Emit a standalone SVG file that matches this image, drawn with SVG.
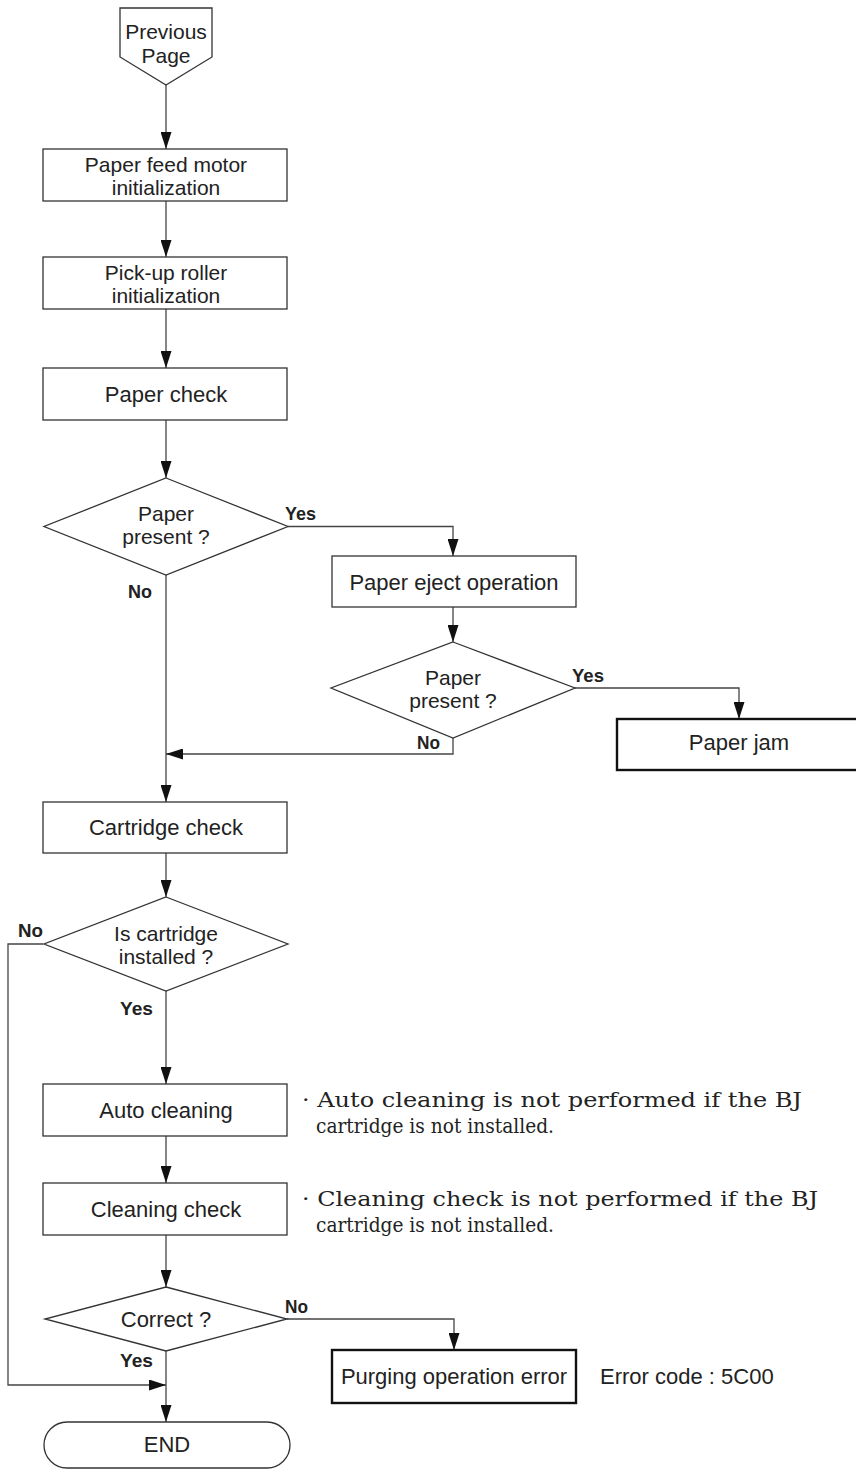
<svg xmlns="http://www.w3.org/2000/svg" width="856" height="1472" viewBox="0 0 856 1472">
<style>
.bg{fill:#fff}
.box{fill:#fff;stroke:#333;stroke-width:1.3}
.bold{fill:#fff;stroke:#111;stroke-width:2.4}
.t{font-family:"Liberation Sans",Arial,sans-serif;font-size:22px;fill:#222;text-anchor:middle}
.t2{font-family:"Liberation Sans",Arial,sans-serif;font-size:21px;fill:#222;text-anchor:middle}
.tl{font-family:"Liberation Sans",Arial,sans-serif;font-size:22px;fill:#222}
.lab{font-family:"Liberation Sans Narrow","Liberation Sans",Arial,sans-serif;font-size:19px;font-weight:bold;fill:#222}
.note{font-family:"DejaVu Serif","Liberation Serif",serif;font-size:20px;fill:#222}
.ln{fill:none;stroke:#444;stroke-width:1.3}
</style>
<defs>
<marker id="ah" markerUnits="userSpaceOnUse" markerWidth="17" markerHeight="11" refX="17" refY="5.5" orient="auto">
<path d="M0,0 L17,5.5 L0,11 Z" fill="#111"/>
</marker>
</defs>
<rect class="bg" x="0" y="0" width="856" height="1472"/>

<g id="connectors">
<path class="ln" d="M166,85 V149" marker-end="url(#ah)"/>
<path class="ln" d="M166,201 V257" marker-end="url(#ah)"/>
<path class="ln" d="M166,309 V368" marker-end="url(#ah)"/>
<path class="ln" d="M166,420 V478" marker-end="url(#ah)"/>
<path class="ln" d="M288,526.5 H453 V556" marker-end="url(#ah)"/>
<path class="ln" d="M166,575 V802" marker-end="url(#ah)"/>
<path class="ln" d="M453,607 V642" marker-end="url(#ah)"/>
<path class="ln" d="M575,688 H739 V719" marker-end="url(#ah)"/>
<path class="ln" d="M453,738 V754 H166" marker-end="url(#ah)"/>
<path class="ln" d="M166,853 V897" marker-end="url(#ah)"/>
<path class="ln" d="M43,944 H8 V1385 H166" marker-end="url(#ah)"/>
<path class="ln" d="M166,991 V1084" marker-end="url(#ah)"/>
<path class="ln" d="M166,1136 V1183" marker-end="url(#ah)"/>
<path class="ln" d="M166,1235 V1287" marker-end="url(#ah)"/>
<path class="ln" d="M287,1319 H454 V1350" marker-end="url(#ah)"/>
<path class="ln" d="M166,1351 V1422" marker-end="url(#ah)"/>
<text class="lab" x="285" y="520" textLength="31" lengthAdjust="spacingAndGlyphs">Yes</text>
<text class="lab" x="128" y="598" textLength="24" lengthAdjust="spacingAndGlyphs">No</text>
<text class="lab" x="572" y="682" textLength="32" lengthAdjust="spacingAndGlyphs">Yes</text>
<text class="lab" x="417" y="749" textLength="23" lengthAdjust="spacingAndGlyphs">No</text>
<text class="lab" x="18" y="937" textLength="25" lengthAdjust="spacingAndGlyphs">No</text>
<text class="lab" x="120" y="1015" textLength="33" lengthAdjust="spacingAndGlyphs">Yes</text>
<text class="lab" x="285" y="1313" textLength="23" lengthAdjust="spacingAndGlyphs">No</text>
<text class="lab" x="120" y="1367" textLength="33" lengthAdjust="spacingAndGlyphs">Yes</text>
</g>

<g id="prev-page">
<polygon class="box" points="120,8 212,8 212,57 166,85 120,57"/>
<text class="t2" x="166" y="39">Previous</text>
<text class="t2" x="166" y="63">Page</text>
</g>
<g id="feed-motor-init">
<rect class="box" x="43" y="149" width="244" height="52"/>
<text class="t2" x="166" y="172">Paper feed motor</text>
<text class="t2" x="166" y="195">initialization</text>
</g>
<g id="pickup-init">
<rect class="box" x="43" y="257" width="244" height="52"/>
<text class="t2" x="166" y="280">Pick-up roller</text>
<text class="t2" x="166" y="303">initialization</text>
</g>
<g id="paper-check">
<rect class="box" x="43" y="368" width="244" height="52"/>
<text class="t" x="166" y="402">Paper check</text>
</g>
<g id="paper-present-1">
<polygon class="box" points="166,478 288,526.5 166,575 44,526.5"/>
<text class="t2" x="166" y="521">Paper</text>
<text class="t2" x="166" y="544">present ?</text>
</g>
<g id="paper-eject">
<rect class="box" x="332" y="556" width="244" height="51"/>
<text class="t" x="454" y="590">Paper eject operation</text>
</g>
<g id="paper-present-2">
<polygon class="box" points="453,642 575,688 453,738 331,688"/>
<text class="t2" x="453" y="685">Paper</text>
<text class="t2" x="453" y="708">present ?</text>
</g>
<g id="paper-jam">
<rect class="bold" x="617" y="719" width="250" height="51"/>
<text class="t" x="739" y="750">Paper jam</text>
</g>
<g id="cartridge-check">
<rect class="box" x="43" y="802" width="244" height="51"/>
<text class="t" x="166" y="835">Cartridge check</text>
</g>
<g id="cartridge-installed">
<polygon class="box" points="166,897 288,944 166,991 44,944"/>
<text class="t2" x="166" y="941">Is cartridge</text>
<text class="t2" x="166" y="964">installed ?</text>
</g>
<g id="auto-cleaning">
<rect class="box" x="43" y="1084" width="244" height="52"/>
<text class="t" x="166" y="1118">Auto cleaning</text>
</g>
<g id="cleaning-check">
<rect class="box" x="43" y="1183" width="244" height="52"/>
<text class="t" x="166" y="1217">Cleaning check</text>
</g>
<g id="correct">
<polygon class="box" points="166,1287 287,1319 166,1351 45,1319"/>
<text class="t" x="166" y="1327">Correct ?</text>
</g>
<g id="purging-error">
<rect class="bold" x="332" y="1350" width="244" height="53"/>
<text class="t" x="454" y="1384">Purging operation error</text>
<text class="tl" x="600" y="1384">Error code : 5C00</text>
</g>
<g id="end">
<rect class="box" x="44" y="1422" width="246" height="46" rx="23" ry="23"/>
<text class="t" x="167" y="1452">END</text>
</g>
<g id="notes">
<text class="note" x="302" y="1107" textLength="500" lengthAdjust="spacingAndGlyphs">· Auto cleaning is not performed if the BJ</text>
<text class="note" x="316" y="1133" textLength="238" lengthAdjust="spacingAndGlyphs">cartridge is not installed.</text>
<text class="note" x="302" y="1206" textLength="516" lengthAdjust="spacingAndGlyphs">· Cleaning check is not performed if the BJ</text>
<text class="note" x="316" y="1232" textLength="238" lengthAdjust="spacingAndGlyphs">cartridge is not installed.</text>
</g>
</svg>
